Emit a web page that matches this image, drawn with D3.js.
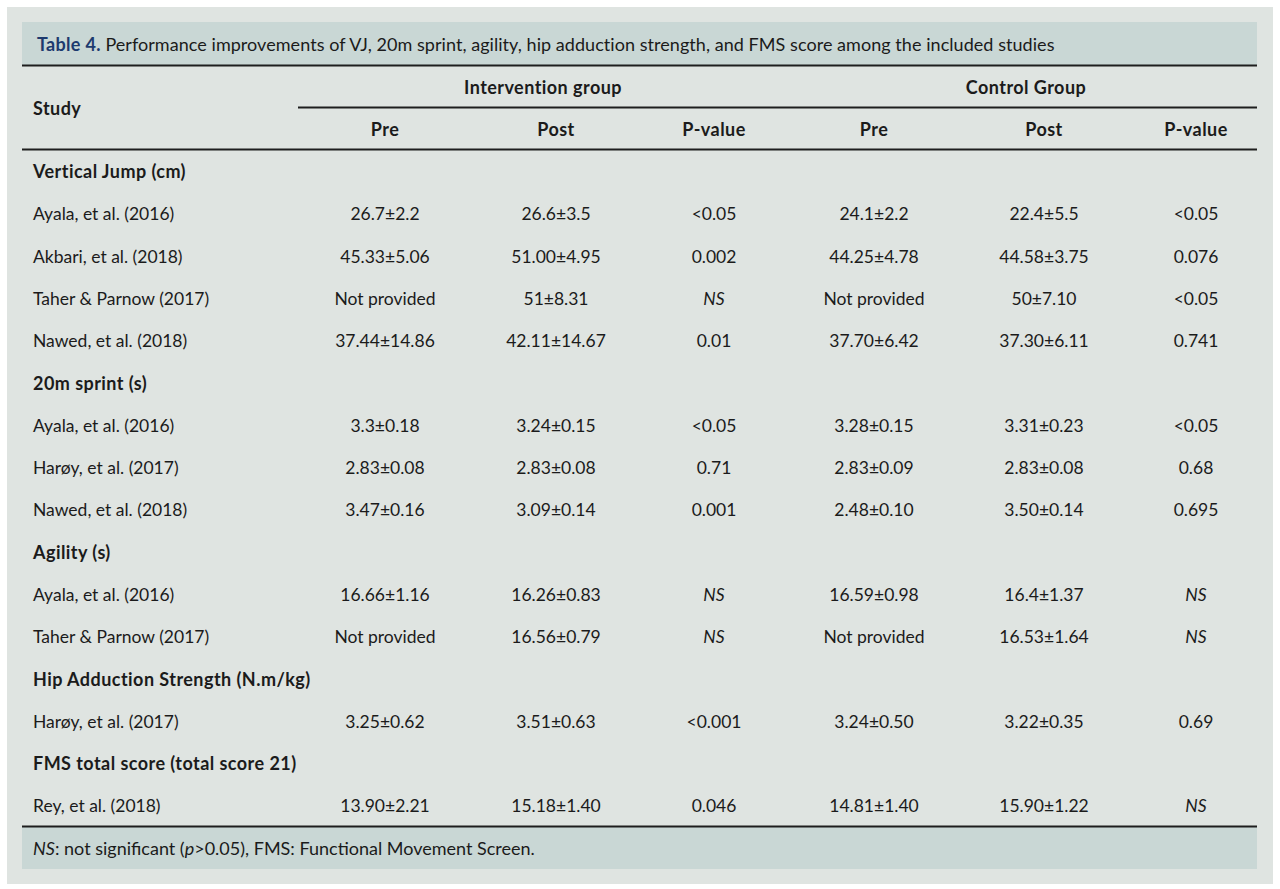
<!DOCTYPE html>
<html>
<head>
<meta charset="utf-8">
<script src="https://cdn.jsdelivr.net/npm/d3@7"></script>
<style>
html,body{margin:0;padding:0;background:#ffffff;}
svg{display:block;}
</style>
</head>
<body>
<svg id="chart" width="1280" height="889"></svg>
<script>
// ---- data ----
const titleLabel = "Table 4.";
const titleText = " Performance improvements of VJ, 20m sprint, agility, hip adduction strength, and FMS score among the included studies";
const groupHeaders = ["Intervention group", "Control Group"];
const columnHeaders = ["Pre", "Post", "P-value", "Pre", "Post", "P-value"];
const sections = ["Vertical Jump (cm)", "20m sprint (s)", "Agility (s)", "Hip Adduction Strength (N.m/kg)", "FMS total score (total score 21)"];
const studySection = [0, 0, 0, 0, 1, 1, 1, 2, 2, 3, 4];
const studies = ["Ayala, et al. (2016)", "Akbari, et al. (2018)", "Taher & Parnow (2017)", "Nawed, et al. (2018)",
  "Ayala, et al. (2016)", "Harøy, et al. (2017)", "Nawed, et al. (2018)",
  "Ayala, et al. (2016)", "Taher & Parnow (2017)",
  "Harøy, et al. (2017)",
  "Rey, et al. (2018)"];
const interventionPre = ["26.7±2.2", "45.33±5.06", "Not provided", "37.44±14.86", "3.3±0.18", "2.83±0.08", "3.47±0.16", "16.66±1.16", "Not provided", "3.25±0.62", "13.90±2.21"];
const interventionPost = ["26.6±3.5", "51.00±4.95", "51±8.31", "42.11±14.67", "3.24±0.15", "2.83±0.08", "3.09±0.14", "16.26±0.83", "16.56±0.79", "3.51±0.63", "15.18±1.40"];
const interventionP = ["<0.05", "0.002", "NS", "0.01", "<0.05", "0.71", "0.001", "NS", "NS", "<0.001", "0.046"];
const controlPre = ["24.1±2.2", "44.25±4.78", "Not provided", "37.70±6.42", "3.28±0.15", "2.83±0.09", "2.48±0.10", "16.59±0.98", "Not provided", "3.24±0.50", "14.81±1.40"];
const controlPost = ["22.4±5.5", "44.58±3.75", "50±7.10", "37.30±6.11", "3.31±0.23", "2.83±0.08", "3.50±0.14", "16.4±1.37", "16.53±1.64", "3.22±0.35", "15.90±1.22"];
const controlP = ["<0.05", "0.076", "<0.05", "0.741", "<0.05", "0.68", "0.695", "NS", "NS", "0.69", "NS"];

// ---- build rows ----
const rows = [];
sections.forEach((s, si) => {
  rows.push({type: "section", label: s});
  studies.forEach((st, i) => {
    if (studySection[i] === si) {
      rows.push({type: "study", label: st,
        cells: [interventionPre[i], interventionPost[i], interventionP[i], controlPre[i], controlPost[i], controlP[i]]});
    }
  });
});

const svg = d3.select("#chart");
const FONT = "Lato, 'Open Sans', sans-serif";
const textCol = "#1b1b1b";
const BODY = "17.5px";
const BOLD = "18px";
const BOLD_LS = "0.45px";

// backgrounds
svg.append("rect").attr("x", 7).attr("y", 7).attr("width", 1266).attr("height", 877).attr("fill", "#dfe4e1");
svg.append("rect").attr("x", 22).attr("y", 22).attr("width", 1235).attr("height", 43).attr("fill", "#c9d7d5");
svg.append("rect").attr("x", 22).attr("y", 827).attr("width", 1235).attr("height", 42).attr("fill", "#c9d7d5");

// title
const t = svg.append("text").attr("x", 37).attr("y", 45).attr("dy", "0.35em")
  .style("font-family", FONT).style("font-size", "18px").attr("fill", textCol);
t.append("tspan").text(titleLabel).attr("font-weight", "bold").attr("fill", "#1d3a6e").style("letter-spacing", "0.3px");
t.append("tspan").text(titleText).style("letter-spacing", "0.05px");

// scales
const colIdx = d3.range(columnHeaders.length);
const x = d3.scaleOrdinal().domain(colIdx).range([385, 556, 714, 874, 1044, 1196]);
const xGroup = d3.scaleOrdinal().domain([0, 1]).range([543, 1026]);
const y = d3.scalePoint().domain(d3.range(rows.length)).range([172, 806]);

// rules
const rules = [
  {x1: 22, x2: 1257, y: 65.5, w: 2.2},
  {x1: 298, x2: 1257, y: 107.5, w: 2},
  {x1: 22, x2: 1257, y: 149.5, w: 2},
  {x1: 22, x2: 1257, y: 826.5, w: 2.2}
];
svg.selectAll("line.rule").data(rules).join("line").attr("class", "rule")
  .attr("x1", d => d.x1).attr("x2", d => d.x2).attr("y1", d => d.y).attr("y2", d => d.y)
  .attr("stroke", "#1e1e1e").attr("stroke-width", d => d.w);

// header
svg.append("text").attr("x", 33).attr("y", 109).attr("dy", "0.35em").text("Study")
  .style("font-family", FONT).style("font-size", BOLD).style("letter-spacing", BOLD_LS)
  .attr("font-weight", "bold").attr("fill", textCol);
svg.selectAll("text.group").data(groupHeaders).join("text").attr("class", "group")
  .attr("x", (d, i) => xGroup(i)).attr("y", 88).attr("dy", "0.35em").attr("text-anchor", "middle")
  .text(d => d).style("font-family", FONT).style("font-size", BOLD).style("letter-spacing", BOLD_LS)
  .attr("font-weight", "bold").attr("fill", textCol);
svg.selectAll("text.colh").data(columnHeaders).join("text").attr("class", "colh")
  .attr("x", (d, i) => x(i)).attr("y", 130).attr("dy", "0.35em").attr("text-anchor", "middle")
  .text(d => d).style("font-family", FONT).style("font-size", BOLD).style("letter-spacing", BOLD_LS)
  .attr("font-weight", "bold").attr("fill", textCol);

// body
const rowG = svg.selectAll("g.row").data(rows).join("g").attr("class", "row")
  .attr("transform", (d, i) => `translate(0,${y(i)})`);
rowG.append("text").attr("x", 33).attr("dy", "0.35em").text(d => d.label)
  .style("font-family", FONT)
  .style("font-size", d => d.type === "section" ? BOLD : BODY)
  .style("letter-spacing", d => d.type === "section" ? BOLD_LS : "0px")
  .attr("font-weight", d => d.type === "section" ? "bold" : "normal").attr("fill", textCol);
rowG.filter(d => d.type === "study").selectAll("text.cell").data(d => d.cells).join("text").attr("class", "cell")
  .attr("x", (d, i) => x(i)).attr("dy", "0.35em").attr("text-anchor", "middle").text(d => d)
  .style("font-family", FONT).style("font-size", BODY)
  .attr("font-style", d => d === "NS" ? "italic" : "normal").attr("fill", textCol);

// footer
const f = svg.append("text").attr("x", 33).attr("y", 849).attr("dy", "0.35em")
  .style("font-family", FONT).style("font-size", "18px").attr("fill", textCol);
f.append("tspan").text("NS").attr("font-style", "italic");
f.append("tspan").text(": not significant (");
f.append("tspan").text("p").attr("font-style", "italic");
f.append("tspan").text(">0.05), FMS: Functional Movement Screen.");
</script>
</body>
</html>
